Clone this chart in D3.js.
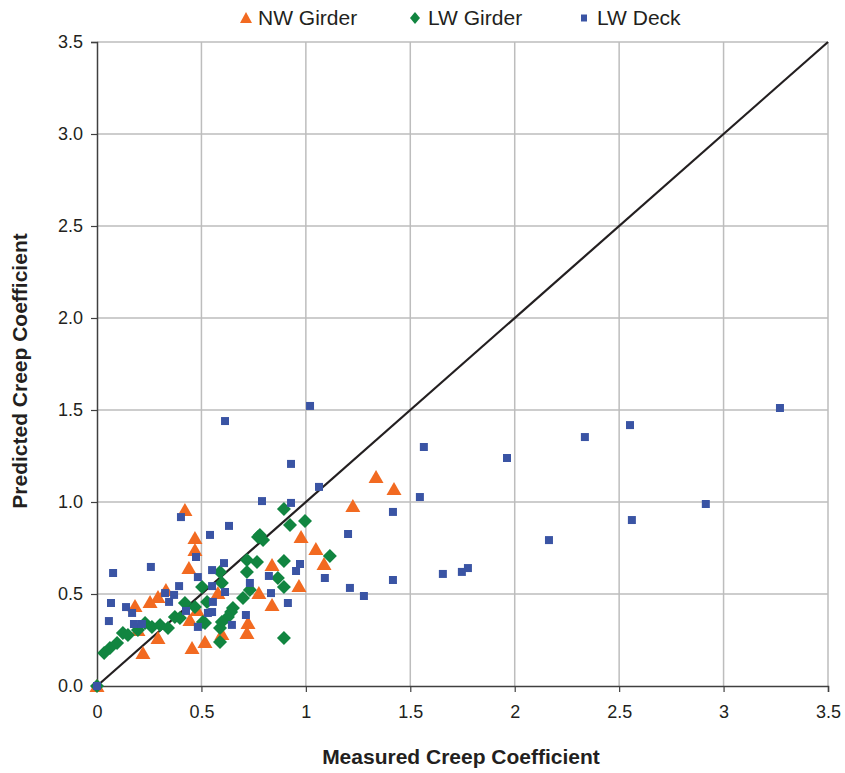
<!DOCTYPE html>
<html>
<head>
<meta charset="utf-8">
<script src="https://cdn.jsdelivr.net/npm/d3@7"></script>
<style>
  body { margin: 0; background: #fff; }
  svg text { font-family: "Liberation Sans", Arial, Helvetica, sans-serif; fill: #231f20; }
</style>
</head>
<body>
<svg id="chart"></svg>
<script>
// measured vs predicted creep coefficient
const nwGirder = [
  [0, 0], [1.336, 1.136], [1.422, 1.071], [1.225, 0.978], [0.977, 0.810],
  [1.048, 0.745], [1.087, 0.663], [0.967, 0.543], [0.838, 0.658], [0.775, 0.505],
  [0.838, 0.440], [0.723, 0.342], [0.718, 0.288], [0.579, 0.505], [0.517, 0.239],
  [0.421, 0.957], [0.469, 0.804], [0.469, 0.739], [0.440, 0.641], [0.330, 0.522],
  [0.292, 0.484], [0.254, 0.457], [0.182, 0.435], [0.292, 0.261], [0.220, 0.179],
  [0.455, 0.207], [0.479, 0.413], [0.445, 0.359], [0.196, 0.304], [0.598, 0.283]
];

const lwGirder = [
  [0, 0], [0.034, 0.179], [0.062, 0.207], [0.096, 0.234], [0.124, 0.288],
  [0.148, 0.277], [0.196, 0.304], [0.230, 0.342], [0.263, 0.321], [0.302, 0.332],
  [0.340, 0.315], [0.373, 0.375], [0.397, 0.370], [0.421, 0.451], [0.469, 0.429],
  [0.503, 0.538], [0.507, 0.348], [0.527, 0.457], [0.517, 0.342], [0.589, 0.620],
  [0.598, 0.560], [0.718, 0.685], [0.718, 0.620], [0.766, 0.674], [0.732, 0.522],
  [0.699, 0.478], [0.651, 0.424], [0.642, 0.402], [0.627, 0.375], [0.598, 0.348],
  [0.589, 0.315], [0.589, 0.239], [0.780, 0.821], [0.795, 0.793], [0.771, 0.810],
  [0.895, 0.962], [0.924, 0.875], [0.996, 0.897], [1.115, 0.707], [0.895, 0.679],
  [0.866, 0.587], [0.895, 0.538], [0.895, 0.261]
];

const lwDeck = [
  [0, 0], [3.270, 1.511], [2.552, 1.418], [2.336, 1.353], [1.963, 1.239],
  [1.565, 1.299], [1.546, 1.027], [1.020, 1.522], [0.613, 1.440], [0.929, 1.207],
  [1.063, 1.082], [0.929, 0.995], [0.790, 1.005], [2.915, 0.989], [2.561, 0.902],
  [2.164, 0.793], [1.417, 0.946], [1.202, 0.826], [0.632, 0.870], [0.402, 0.918],
  [0.541, 0.821], [0.077, 0.614], [0.258, 0.647], [1.776, 0.641], [1.747, 0.620],
  [1.656, 0.609], [1.091, 0.587], [1.417, 0.576], [1.211, 0.533], [1.278, 0.489],
  [0.953, 0.625], [0.972, 0.663], [0.823, 0.598], [0.833, 0.505], [0.914, 0.451],
  [0.067, 0.451], [0.057, 0.353], [0.139, 0.429], [0.168, 0.397], [0.177, 0.337],
  [0.215, 0.337], [0.393, 0.543], [0.326, 0.505], [0.369, 0.495], [0.345, 0.457],
  [0.426, 0.408], [0.483, 0.321], [0.483, 0.592], [0.474, 0.701], [0.531, 0.397],
  [0.608, 0.668], [0.551, 0.630], [0.551, 0.543], [0.613, 0.511], [0.555, 0.457],
  [0.551, 0.402], [0.732, 0.560], [0.713, 0.386], [0.646, 0.332]
];

const xTicks = [0, 0.5, 1, 1.5, 2, 2.5, 3, 3.5];
const yTicks = [0, 0.5, 1, 1.5, 2, 2.5, 3, 3.5];
const seriesNames = ["NW Girder", "LW Girder", "LW Deck"];

let width = 845;
let height = 773;
let margin = {top: 42, right: 17, bottom: 87, left: 97};

let svg = d3.select("#chart")
    .attr("width", width)
    .attr("height", height);

let x = d3.scaleLinear().domain([0, 3.5]).range([margin.left, width - margin.right]);
let y = d3.scaleLinear().domain([0, 3.5]).range([height - margin.bottom, margin.top]);

// gridlines
svg.append("g")
    .selectAll("line.vgrid")
    .data(xTicks.slice(1))
    .enter()
    .append("line")
    .attr("x1", d => x(d)).attr("x2", d => x(d))
    .attr("y1", y(0)).attr("y2", y(3.5))
    .attr("stroke", "#bdbdbd").attr("stroke-width", 1.5);

svg.append("g")
    .selectAll("line.hgrid")
    .data(yTicks.slice(1))
    .enter()
    .append("line")
    .attr("x1", x(0)).attr("x2", x(3.5))
    .attr("y1", d => y(d)).attr("y2", d => y(d))
    .attr("stroke", "#bdbdbd").attr("stroke-width", 1.5);

// axes
let xAxis = svg.append("g")
    .attr("transform", `translate(0,${y(0)})`)
    .call(d3.axisBottom(x).tickValues(xTicks).tickFormat(d3.format("")).tickSize(6).tickPadding(13));
let yAxis = svg.append("g")
    .attr("transform", `translate(${x(0)},0)`)
    .call(d3.axisLeft(y).tickValues(yTicks).tickFormat(d3.format(".1f")).tickSize(6).tickPadding(8));

[xAxis, yAxis].forEach(a => {
    a.select(".domain").attr("stroke", "#404040").attr("stroke-width", 1.5);
    a.selectAll(".tick line").attr("stroke", "#404040").attr("stroke-width", 1.2);
    a.selectAll(".tick text").attr("font-size", 18).attr("fill", "#231f20");
});

// 1:1 line
svg.append("line")
    .attr("x1", x(0)).attr("y1", y(0))
    .attr("x2", x(3.5)).attr("y2", y(3.5))
    .attr("stroke", "#231f20").attr("stroke-width", 2.2);

// marker shapes
const triPath = "M0,-7L7.5,6L-7.5,6Z";
const diaPath = "M0,-7L7,0L0,7L-7,0Z";
const sqPath = "M-4,-4L4,-4L4,4L-4,4Z";
const colors = ["#f26a21", "#118540", "#3a54a4"];

function drawSeries(data, path, color) {
    svg.append("g")
        .selectAll("path")
        .data(data)
        .enter()
        .append("path")
        .attr("d", path)
        .attr("transform", d => `translate(${x(d[0])},${y(d[1])})`)
        .attr("fill", color);
}
drawSeries(nwGirder, triPath, colors[0]);
drawSeries(lwGirder, diaPath, colors[1]);
drawSeries(lwDeck, sqPath, colors[2]);

// legend
let legendItems = [
    {name: seriesNames[0], path: "M0,-6L6,5L-6,5Z", color: colors[0], x: 246, tx: 258},
    {name: seriesNames[1], path: "M0,-6L5,0L0,6L-5,0Z", color: colors[1], x: 415, tx: 428},
    {name: seriesNames[2], path: "M-3,-3.5L3,-3.5L3,3.5L-3,3.5Z", color: colors[2], x: 584, tx: 597}
];
let legend = svg.append("g");
legendItems.forEach(it => {
    legend.append("path")
        .attr("d", it.path)
        .attr("transform", `translate(${it.x},18)`)
        .attr("fill", it.color);
    legend.append("text")
        .attr("x", it.tx).attr("y", 18)
        .attr("dy", "0.35em")
        .attr("font-size", 21)
        .text(it.name);
});

// axis titles
svg.append("text")
    .attr("x", 461).attr("y", 757)
    .attr("dy", "0.35em")
    .attr("text-anchor", "middle")
    .attr("font-size", 21)
    .attr("font-weight", "bold")
    .text("Measured Creep Coefficient");

svg.append("text")
    .attr("transform", "translate(20,371) rotate(-90)")
    .attr("dy", "0.35em")
    .attr("text-anchor", "middle")
    .attr("font-size", 21)
    .attr("font-weight", "bold")
    .text("Predicted Creep Coefficient");
</script>
</body>
</html>
